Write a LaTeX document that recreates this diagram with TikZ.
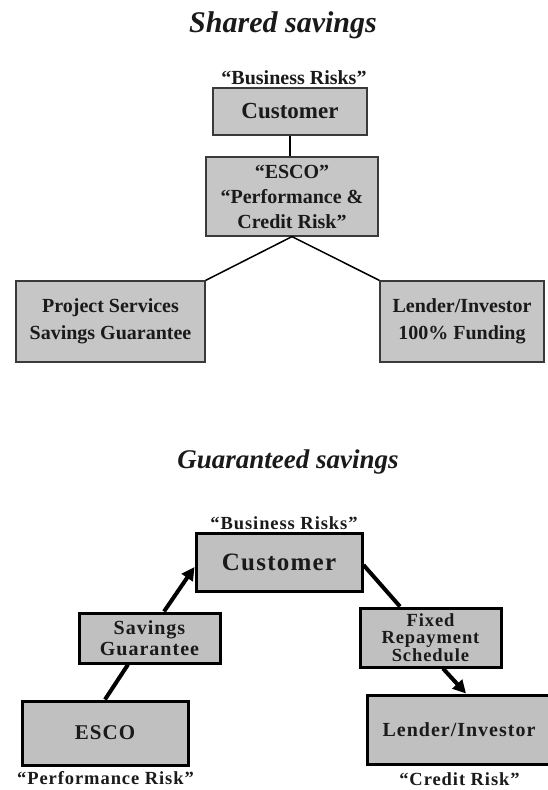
\documentclass[tikz,border=0pt]{standalone}
\usepackage{fontspec}
\setmainfont{Liberation Serif}
\newfontfamily\lsfont{Liberation Serif}[LetterSpace=5]
\usetikzlibrary{arrows.meta}
\definecolor{topfill}{HTML}{C6C6C6}
\definecolor{topedge}{HTML}{3A3A3A}
\definecolor{botfill}{HTML}{C0C0C0}
\definecolor{ink}{HTML}{1A1A1A}
\tikzset{
  topbox/.style={draw=topedge, fill=topfill, line width=1.2pt, inner sep=0pt, align=center, text=ink,
    font=\bfseries\fontsize{20}{25}\selectfont},
  botbox/.style={draw=black, fill=botfill, line width=3pt, inner sep=0pt, align=center, text=ink,
    font=\lsfont\bfseries\fontsize{20}{21}\selectfont},
  toplabel/.style={text=ink, inner sep=0pt, font=\bfseries\fontsize{20}{24}\selectfont},
  botlabel/.style={text=ink, inner sep=0pt, font=\lsfont\bfseries\fontsize{18.5}{22}\selectfont},
  titletext/.style={text=ink, inner sep=0pt, font=\bfseries\itshape\fontsize{#1}{#1}\selectfont},
  topline/.style={draw=black, line width=1.5pt},
  botline/.style={draw=black, line width=4pt},
  botarrow/.style={draw=black, line width=4pt, -{Triangle[length=13pt,width=13pt]}}
}
\begin{document}
\begin{tikzpicture}[x=1pt,y=-1pt]
\useasboundingbox[fill=white] (0,0) rectangle (547,790);

% ---------- Shared savings ----------
\node[titletext=30] (t1) at (283,25) {Shared savings};
\node[toplabel] (br1) at (294,78) {“Business Risks”};
\node[topbox, minimum width=154pt, minimum height=47pt, font=\bfseries\fontsize{23}{25}\selectfont]
  (cust1) at (290,111.5) {Customer};
\node[topbox, minimum width=172pt, minimum height=79pt] (esco1) at (292,196.5)
  {“ESCO”\\“Performance \&\\Credit Risk”};
\node[topbox, minimum width=189pt, minimum height=81pt, font=\bfseries\fontsize{20}{27}\selectfont]
  (proj) at (110.5,321.5) {Project Services\\Savings Guarantee};
\node[topbox, minimum width=164pt, minimum height=81pt, font=\bfseries\fontsize{20}{27}\selectfont]
  (lend1) at (462,321.5) {Lender/Investor\\100\% Funding};
\draw[topline] (cust1.south) -- (cust1.south |- esco1.north);
\draw[topline] (esco1.south) -- (proj.north east);
\draw[topline] (esco1.south) -- (lend1.north west);

% ---------- Guaranteed savings ----------
\node[titletext=27] (t2) at (288,462) {Guaranteed savings};
\node[botlabel] (br2) at (284,523) {“Business Risks”};
\node[botbox, minimum width=166pt, minimum height=58pt, font=\lsfont\bfseries\fontsize{25}{26}\selectfont]
  (cust2) at (279,562) {Customer};
\node[botbox, minimum width=141pt, minimum height=50pt] (sav) at (149.5,638) {Savings\\Guarantee};
\node[botbox, minimum width=141pt, minimum height=59pt, font=\lsfont\bfseries\fontsize{18.5}{17.5}\selectfont]
  (fix) at (430.5,637.5) {Fixed\\Repayment\\Schedule};
\node[botbox, minimum width=166pt, minimum height=64pt, font=\lsfont\bfseries\fontsize{21}{22}\selectfont]
  (esco2) at (105,733) {ESCO};
\node[botbox, minimum width=184pt, minimum height=69pt] (lend2) at (459,729.5) {Lender/Investor};
\node[botlabel] (perf) at (105.5,778) {“Performance Risk”};
\node[botlabel] (cred) at (459.5,779) {“Credit Risk”};

\draw[botline] (esco2.north) -- ([xshift=-21.5pt]sav.south);
\draw[botarrow] ([xshift=14.5pt]sav.north) -- ([yshift=-5pt]cust2.west);
\draw[botline] ([yshift=-3pt]cust2.east) -- ([xshift=-30.5pt]fix.north);
\draw[botarrow] ([xshift=12.5pt]fix.south) -- ([xshift=7pt]lend2.north);
\end{tikzpicture}
\end{document}
